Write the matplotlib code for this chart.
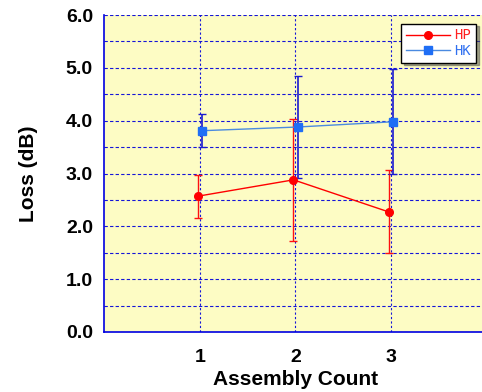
import matplotlib
matplotlib.use("Agg")
from matplotlib import pyplot as plt
from matplotlib import font_manager
from matplotlib.ticker import MultipleLocator

counts = [1, 2, 3]

hp_loss = [2.57, 2.88, 2.27]
hp_err_low = [2.16, 1.72, 1.49]
hp_err_high = [2.97, 4.03, 3.07]

hk_loss = [3.81, 3.88, 3.98]
hk_err_low = [3.50, 2.92, 2.99]
hk_err_high = [4.12, 4.84, 4.98]

y_ticks = [0.0, 1.0, 2.0, 3.0, 4.0, 5.0, 6.0]

if __name__ == "__main__":
    plt.rcParams['font.family'] = ['Liberation Sans', 'DejaVu Sans']
    mono = font_manager.FontProperties(family='DejaVu Sans Mono', size=10)

    fig = plt.figure(figsize=(4.82, 3.92), dpi=100)
    # axes run past the right edge like the original
    ax_w = 382.8 / 482
    ax = fig.add_axes([104 / 482, 60 / 392, ax_w, 317 / 392])
    ax.set_facecolor("#fdfcc4")

    # small shift so the two series don't overlap
    x_hp = [c - 0.02 for c in counts]
    x_hk = [c + 0.025 for c in counts]

    hp_yerr = [[v - lo for v, lo in zip(hp_loss, hp_err_low)],
               [hi - v for v, hi in zip(hp_loss, hp_err_high)]]
    hk_yerr = [[v - lo for v, lo in zip(hk_loss, hk_err_low)],
               [hi - v for v, hi in zip(hk_loss, hk_err_high)]]

    ax.errorbar(x_hp, hp_loss, yerr=hp_yerr, fmt='none', ecolor='#ff1010',
                elinewidth=1.0, capsize=3, capthick=1.0, zorder=3)
    ax.errorbar(x_hk, hk_loss, yerr=hk_yerr, fmt='none', ecolor='#1a1ad0',
                elinewidth=1.2, capsize=3, capthick=1.0, zorder=3)

    ax.plot(x_hp, hp_loss, color='#ff0000', lw=1.0, marker='o', ms=5.5,
            mfc='#ff0000', mec='#ff0000', label='HP', zorder=4)
    ax.plot(x_hk, hk_loss, color='#4a8ae0', lw=1.0, marker='s', ms=5.5,
            mfc='#1f6ef5', mec='#1f6ef5', label='HK', zorder=4)

    ax.set_xlim(0, 4)
    ax.set_ylim(0, 6)
    ax.set_xticks(counts)
    ax.set_yticks(y_ticks)
    ax.set_yticklabels(["%.1f" % t for t in y_ticks])
    ax.yaxis.set_minor_locator(MultipleLocator(0.5))

    ax.grid(True, which='both', axis='y', color='#1515d8', linestyle=(0, (3, 2)), lw=0.8)
    ax.grid(True, which='major', axis='x', color='#1515d8', linestyle=(0, (2, 2)), lw=0.8)
    ax.set_axisbelow(True)

    ax.tick_params(which='both', length=0)
    ax.tick_params(axis='y', pad=8, labelsize=14)
    ax.tick_params(axis='x', pad=12, labelsize=14)
    for lab in ax.get_xticklabels() + ax.get_yticklabels():
        lab.set_fontweight('bold')

    ax.spines['left'].set_color('#0000e0')
    ax.spines['bottom'].set_color('#0000e0')
    ax.spines['left'].set_linewidth(1.2)
    ax.spines['bottom'].set_linewidth(1.2)
    ax.spines['top'].set_visible(False)
    ax.spines['right'].set_visible(False)

    ax.set_xlabel("Assembly Count", fontsize=15, fontweight='bold', labelpad=3)
    ax.set_ylabel("Loss (dB)", fontsize=15, fontweight='bold', labelpad=20)

    leg = ax.legend(loc='upper right', bbox_to_anchor=((483 - 104) / 382.8, 0.995),
                    prop=mono,
                    frameon=True, fancybox=False, shadow=True, handlelength=3.2,
                    handletextpad=0.3, borderpad=0.35, labelspacing=0.1)
    leg.get_frame().set_edgecolor('black')
    leg.get_frame().set_facecolor('white')
    leg.get_frame().set_linewidth(1.0)
    leg.get_texts()[0].set_color('#ff2020')
    leg.get_texts()[1].set_color('#3070f0')

    fig.savefig("out.png", dpi=100)
